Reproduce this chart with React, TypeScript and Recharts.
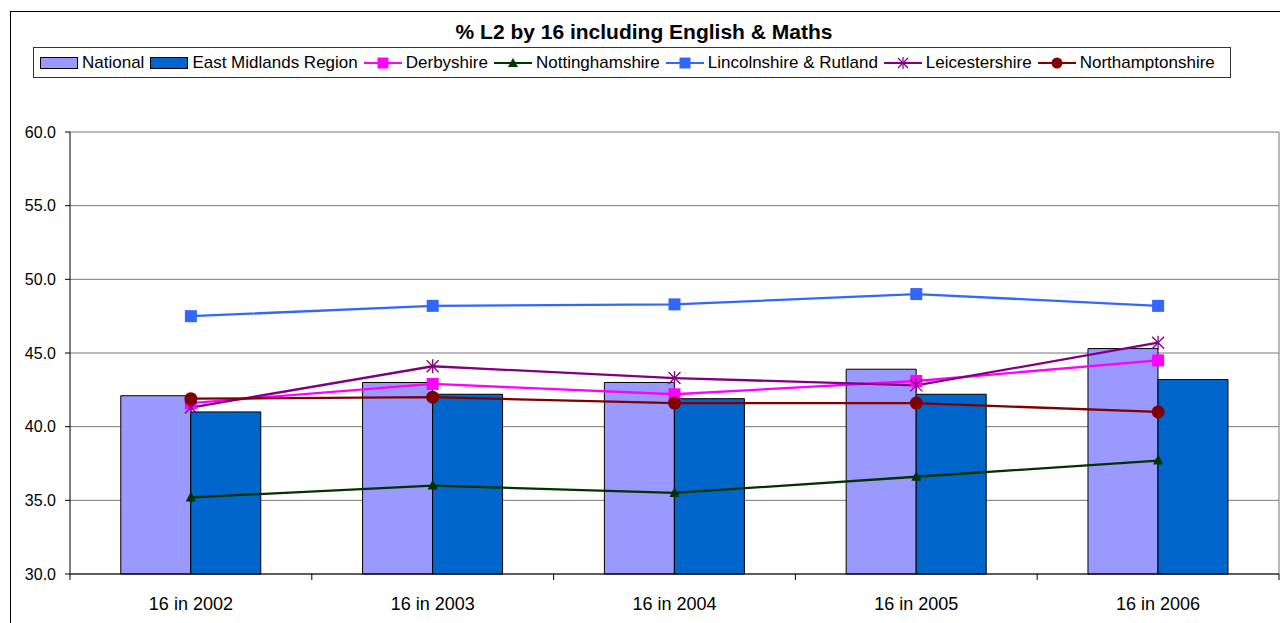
import { ComposedChart, Bar, Line, XAxis, YAxis, CartesianGrid } from 'recharts';

const years = ['16 in 2002', '16 in 2003', '16 in 2004', '16 in 2005', '16 in 2006'];
const national = [42.1, 43.0, 43.0, 43.9, 45.3];
const eastMidlands = [41.0, 42.2, 41.9, 42.2, 43.2];
const derbyshire = [41.6, 42.9, 42.2, 43.1, 44.5];
const nottinghamshire = [35.2, 36.0, 35.5, 36.6, 37.7];
const lincolnshire = [47.5, 48.2, 48.3, 49.0, 48.2];
const leicestershire = [41.3, 44.1, 43.3, 42.8, 45.7];
const northamptonshire = [41.9, 42.0, 41.6, 41.6, 41.0];
const yTicks = [30, 35, 40, 45, 50, 55, 60];

const data = years.map((year, i) => ({
  year,
  national: national[i],
  eastMidlands: eastMidlands[i],
  derbyshire: derbyshire[i],
  nottinghamshire: nottinghamshire[i],
  lincolnshire: lincolnshire[i],
  leicestershire: leicestershire[i],
  northamptonshire: northamptonshire[i],
}));

const FONT = 'Arial, "Liberation Sans", sans-serif';

// markers
function squareDot(color: string, size: number) {
  return (p: any) => (
    <rect key={`s-${color}-${p.index}`} x={p.cx - size / 2} y={p.cy - size / 2} width={size} height={size} fill={color} />
  );
}

function triangleDot(color: string) {
  return (p: any) => (
    <polygon
      key={`t-${p.index}`}
      points={`${p.cx},${p.cy - 6} ${p.cx - 5},${p.cy + 4} ${p.cx + 5},${p.cy + 4}`}
      fill={color}
    />
  );
}

function starDot(color: string) {
  return (p: any) => (
    <g key={`x-${p.index}`} stroke={color} strokeWidth={1.3}>
      <line x1={p.cx - 6} y1={p.cy - 6} x2={p.cx + 6} y2={p.cy + 6} />
      <line x1={p.cx - 6} y1={p.cy + 6} x2={p.cx + 6} y2={p.cy - 6} />
      <line x1={p.cx} y1={p.cy - 7} x2={p.cx} y2={p.cy + 7} />
    </g>
  );
}

function circleDot(color: string) {
  return (p: any) => <circle key={`c-${p.index}`} cx={p.cx} cy={p.cy} r={6.5} fill={color} />;
}

function XTick(props: any) {
  const { x, y, payload, index, visibleTicksCount } = props;
  const half = payload.offset || 120.8;
  const axisY = 574;
  return (
    <g>
      <line x1={x - half} y1={axisY} x2={x - half} y2={axisY + 6} stroke="#000" />
      {index === visibleTicksCount - 1 && (
        <line x1={x + half} y1={axisY} x2={x + half} y2={axisY + 6} stroke="#000" />
      )}
      <text x={x} y={y} dy={28 - (y - 582)} textAnchor="middle" fontSize={18} fill="#000" fontFamily={FONT}>
        {payload.value}
      </text>
    </g>
  );
}

function BarSwatch({ color }: { color: string }) {
  return (
    <svg width={38} height={14} style={{ display: 'block' }}>
      <rect x={0.5} y={1.5} width={37} height={11} fill={color} stroke="#000" />
    </svg>
  );
}

function LineSwatch({ color, marker }: { color: string; marker: string }) {
  const cx = 19;
  const cy = 7;
  let m: any = null;
  if (marker === 'square') m = <rect x={cx - 5.5} y={cy - 5.5} width={11} height={11} fill={color} />;
  if (marker === 'triangle') m = <polygon points={`${cx},${cy - 5} ${cx - 5},${cy + 4} ${cx + 5},${cy + 4}`} fill={color} />;
  if (marker === 'circle') m = <circle cx={cx} cy={cy} r={5.5} fill={color} />;
  if (marker === 'star')
    m = (
      <g stroke={color} strokeWidth={1.2}>
        <line x1={cx - 5} y1={cy - 5} x2={cx + 5} y2={cy + 5} />
        <line x1={cx - 5} y1={cy + 5} x2={cx + 5} y2={cy - 5} />
        <line x1={cx} y1={cy - 6} x2={cx} y2={cy + 6} />
      </g>
    );
  return (
    <svg width={38} height={14} style={{ display: 'block' }}>
      <line x1={0} y1={cy} x2={38} y2={cy} stroke={color} strokeWidth={2} />
      {m}
    </svg>
  );
}

const legendItems = [
  { label: 'National', color: '#9999FF', type: 'bar', marker: '' },
  { label: 'East Midlands Region', color: '#0066CC', type: 'bar', marker: '' },
  { label: 'Derbyshire', color: '#FF00FF', type: 'line', marker: 'square' },
  { label: 'Nottinghamshire', color: '#003300', type: 'line', marker: 'triangle' },
  { label: 'Lincolnshire & Rutland', color: '#3366FF', type: 'line', marker: 'square' },
  { label: 'Leicestershire', color: '#800080', type: 'line', marker: 'star' },
  { label: 'Northamptonshire', color: '#800000', type: 'line', marker: 'circle' },
];

export default function App() {
  return (
    <div style={{ position: 'fixed', left: 0, top: 0, width: 1280, height: 623, background: '#fff', overflow: 'hidden', fontFamily: FONT }}>
      {/* outer chart border */}
      <div style={{ position: 'absolute', left: 10, top: 11, width: 1300, height: 700, border: '1px solid #000' }} />

      <div style={{ position: 'absolute', left: 0, top: 0 }}>
        <ComposedChart width={1280} height={623} data={data} barGap={0} barCategoryGap="21%" margin={{ top: 132, right: 1, bottom: 19, left: 0 }}>
          <CartesianGrid
            stroke="#777"
            vertical={true}
            verticalCoordinatesGenerator={({ offset }: any) => [offset.left + offset.width]}
          />
          <XAxis dataKey="year" height={30} axisLine={{ stroke: '#000' }} tickLine={false} tick={<XTick />} interval={0} />
          <YAxis
            width={70}
            domain={[30, 60]}
            ticks={yTicks}
            interval={0}
            tickFormatter={(v: number) => v.toFixed(1)}
            tick={{ fontSize: 16, fill: '#000', fontFamily: FONT }}
            tickLine={{ stroke: '#000' }}
            tickSize={5}
            tickMargin={9}
            axisLine={{ stroke: '#000' }}
          />
          <Bar dataKey="national" fill="#9999FF" stroke="#000" strokeWidth={1} isAnimationActive={false} />
          <Bar dataKey="eastMidlands" fill="#0066CC" stroke="#000" strokeWidth={1} isAnimationActive={false} />
          <Line dataKey="derbyshire" stroke="#FF00FF" strokeWidth={2.3} dot={squareDot('#FF00FF', 12)} activeDot={false} isAnimationActive={false} />
          <Line dataKey="nottinghamshire" stroke="#003300" strokeWidth={2.3} dot={triangleDot('#003300')} activeDot={false} isAnimationActive={false} />
          <Line dataKey="lincolnshire" stroke="#3366FF" strokeWidth={2.3} dot={squareDot('#3366FF', 12)} activeDot={false} isAnimationActive={false} />
          <Line dataKey="leicestershire" stroke="#800080" strokeWidth={2.3} dot={starDot('#800080')} activeDot={false} isAnimationActive={false} />
          <Line dataKey="northamptonshire" stroke="#800000" strokeWidth={2.3} dot={circleDot('#800000')} activeDot={false} isAnimationActive={false} />
        </ComposedChart>
      </div>

      <div style={{ position: 'absolute', left: 0, width: 1288, top: 19, textAlign: 'center', fontSize: 21, fontWeight: 'bold', lineHeight: '26px' }}>
        % L2 by 16 including English &amp; Maths
      </div>

      <div
        style={{
          position: 'absolute',
          left: 33,
          top: 47,
          height: 29,
          border: '1px solid #333',
          background: '#fff',
          display: 'flex',
          alignItems: 'center',
          paddingLeft: 6,
          paddingRight: 9,
          fontSize: 17,
          whiteSpace: 'nowrap',
        }}
      >
        {legendItems.map((it) => (
          <div key={it.label} style={{ display: 'flex', alignItems: 'center', marginRight: 6 }}>
            {it.type === 'bar' ? <BarSwatch color={it.color} /> : <LineSwatch color={it.color} marker={it.marker} />}
            <span style={{ marginLeft: 4 }}>{it.label}</span>
          </div>
        ))}
      </div>
    </div>
  );
}
